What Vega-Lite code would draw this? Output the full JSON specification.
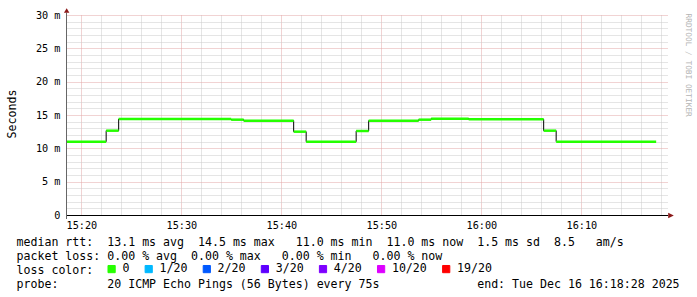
{
  "$schema": "https://vega.github.io/schema/vega-lite/v6.json",
  "width": 602,
  "height": 200,
  "autosize": {"type": "none"},
  "padding": {"left": 66, "top": 15, "right": 29, "bottom": 82},
  "background": "#ffffff",
  "config": {
    "font": "DejaVu Sans Mono",
    "view": {"stroke": null},
    "axis": {"labelFont": "DejaVu Sans Mono", "titleFont": "DejaVu Sans Mono"},
    "legend": {"labelFont": "DejaVu Sans Mono"}
  },
  "datasets": {
    "median": [
      {"start": "2025-12-16T15:17:29Z", "end": "2025-12-16T15:22:29Z", "rtt": 11.0, "loss": "0"},
      {"start": "2025-12-16T15:22:29Z", "end": "2025-12-16T15:23:44Z", "rtt": 12.65, "loss": "0"},
      {"start": "2025-12-16T15:23:44Z", "end": "2025-12-16T15:34:59Z", "rtt": 14.4, "loss": "0"},
      {"start": "2025-12-16T15:34:59Z", "end": "2025-12-16T15:36:14Z", "rtt": 14.3, "loss": "0"},
      {"start": "2025-12-16T15:36:14Z", "end": "2025-12-16T15:41:14Z", "rtt": 14.15, "loss": "0"},
      {"start": "2025-12-16T15:41:14Z", "end": "2025-12-16T15:42:29Z", "rtt": 12.5, "loss": "0"},
      {"start": "2025-12-16T15:42:29Z", "end": "2025-12-16T15:47:29Z", "rtt": 11.0, "loss": "0"},
      {"start": "2025-12-16T15:47:29Z", "end": "2025-12-16T15:48:44Z", "rtt": 12.6, "loss": "0"},
      {"start": "2025-12-16T15:48:44Z", "end": "2025-12-16T15:53:44Z", "rtt": 14.15, "loss": "0"},
      {"start": "2025-12-16T15:53:44Z", "end": "2025-12-16T15:54:59Z", "rtt": 14.3, "loss": "0"},
      {"start": "2025-12-16T15:54:59Z", "end": "2025-12-16T15:58:44Z", "rtt": 14.45, "loss": "0"},
      {"start": "2025-12-16T15:58:44Z", "end": "2025-12-16T16:06:14Z", "rtt": 14.35, "loss": "0"},
      {"start": "2025-12-16T16:06:14Z", "end": "2025-12-16T16:07:29Z", "rtt": 12.65, "loss": "0"},
      {"start": "2025-12-16T16:07:29Z", "end": "2025-12-16T16:17:29Z", "rtt": 11.0, "loss": "0"}
    ]
  },
  "resolve": {"axis": {"x": "independent", "y": "independent"}},
  "layer": [
    {
      "data": {"name": "median"},
      "mark": {"type": "line", "interpolate": "step-after", "color": "#000000", "strokeWidth": 1, "clip": true},
      "encoding": {
        "x": {
          "field": "start", "type": "temporal",
          "scale": {"type": "utc", "domain": [1765898308000, 1765901920000]},
          "axis": {
            "orient": "bottom",
            "values": [1765898520000, 1765898640000, 1765898760000, 1765898880000, 1765899120000, 1765899240000, 1765899360000, 1765899480000, 1765899720000, 1765899840000, 1765899960000, 1765900080000, 1765900320000, 1765900440000, 1765900560000, 1765900680000, 1765900920000, 1765901040000, 1765901160000, 1765901280000, 1765901520000, 1765901640000, 1765901760000, 1765901880000],
            "grid": true, "gridColor": "#cbcbcb", "gridDash": [1, 1], "gridWidth": 1, "gridOpacity": 1,
            "labels": false, "ticks": false, "domain": false, "title": null
          }
        },
        "y": {
          "field": "rtt", "type": "quantitative",
          "scale": {"domain": [0, 30], "nice": false, "zero": false},
          "axis": {
            "orient": "left",
            "values": [1, 2, 3, 4, 6, 7, 8, 9, 11, 12, 13, 14, 16, 17, 18, 19, 21, 22, 23, 24, 26, 27, 28, 29],
            "grid": true, "gridColor": "#cbcbcb", "gridDash": [1, 1], "gridWidth": 1, "gridOpacity": 1,
            "labels": false, "ticks": false, "domain": false, "title": null
          }
        }
      }
    },
    {
      "data": {"name": "median"},
      "mark": {"type": "rule", "strokeWidth": 2.5, "strokeCap": "butt", "clip": true},
      "encoding": {
        "x": {
          "field": "start", "type": "temporal",
          "scale": {"type": "utc", "domain": [1765898308000, 1765901920000]},
          "axis": {
            "orient": "bottom",
            "values": [1765898400000, 1765899000000, 1765899600000, 1765900200000, 1765900800000, 1765901400000],
            "grid": true, "gridColor": "#e2a6a6", "gridDash": [1, 1], "gridWidth": 1, "gridOpacity": 1,
            "ticks": false, "domain": false,
            "labelExpr": "utcFormat(datum.value, '%H:%M')",
            "labelFontSize": 10.2, "labelColor": "#000000", "labelPadding": 5, "labelBaseline": "top",
            "labelFlush": false, "labelOverlap": false,
            "title": [
              "median\u00a0rtt:\u00a0\u00a013.1\u00a0ms\u00a0avg\u00a0\u00a014.5\u00a0ms\u00a0max\u00a0\u00a0\u00a011.0\u00a0ms\u00a0min\u00a0\u00a011.0\u00a0ms\u00a0now\u00a0\u00a01.5\u00a0ms\u00a0sd\u00a0\u00a08.5\u00a0\u00a0\u00a0am/s",
              "packet\u00a0loss:\u00a00.00\u00a0%\u00a0avg\u00a0\u00a00.00\u00a0%\u00a0max\u00a0\u00a0\u00a00.00\u00a0%\u00a0min\u00a0\u00a0\u00a00.00\u00a0%\u00a0now",
              "loss\u00a0color:",
              "probe:\u00a0\u00a0\u00a0\u00a0\u00a0\u00a0\u00a020\u00a0ICMP\u00a0Echo\u00a0Pings\u00a0(56\u00a0Bytes)\u00a0every\u00a075s\u00a0\u00a0\u00a0\u00a0\u00a0\u00a0\u00a0\u00a0\u00a0\u00a0\u00a0\u00a0\u00a0\u00a0end:\u00a0Tue\u00a0Dec\u00a016\u00a016:18:28\u00a02025"
            ],
            "titleFontSize": 11.6, "titleFontWeight": "normal", "titleColor": "#000000",
            "titleAnchor": "start", "titleAlign": "left", "titleBaseline": "alphabetic", "titleAngle": 0,
            "titleLineHeight": 14.1, "titleX": -50, "titleY": 30
          }
        },
        "x2": {"field": "end"},
        "y": {
          "field": "rtt", "type": "quantitative",
          "scale": {"domain": [0, 30], "nice": false, "zero": false},
          "axis": {
            "orient": "left",
            "values": [0, 5, 10, 15, 20, 25, 30],
            "grid": true, "gridColor": "#e2a6a6", "gridDash": [1, 1], "gridWidth": 1, "gridOpacity": 1,
            "ticks": false, "domain": false,
            "labelExpr": "datum.value == 0 ? '0\u00a0\u00a0' : datum.value + '\u00a0m'",
            "labelFontSize": 10.2, "labelColor": "#000000", "labelPadding": 6, "labelAlign": "right", "labelBaseline": "middle",
            "title": "Seconds",
            "titleFontSize": 11.6, "titleFontWeight": "normal", "titleColor": "#000000",
            "titleAngle": 270, "titleAlign": "center", "titleBaseline": "alphabetic",
            "titleX": -51, "titleY": 98.5
          }
        },
        "color": {
          "field": "loss", "type": "nominal",
          "scale": {
            "domain": ["0", "1/20", "2/20", "3/20", "4/20", "10/20", "19/20"],
            "range": ["#26ff00", "#00b8ff", "#0059ff", "#5e00ff", "#7e00ff", "#dd00ff", "#ff0000"]
          },
          "legend": {
            "orient": "none", "legendX": 39.8, "legendY": 248,
            "direction": "horizontal", "title": null, "padding": 0,
            "symbolType": "square", "symbolSize": 52, "symbolStrokeWidth": 1, "symbolStrokeColor": "#000000",
            "labelFontSize": 11.6, "labelColor": "#000000", "labelOffset": 5, "columnPadding": 13.1,
            "encode": {
              "symbols": {
                "update": {
                  "fill": {"scale": "color", "field": "value"},
                  "stroke": {"value": "#000000"},
                  "strokeWidth": {"value": 1},
                  "opacity": {"value": 1},
                  "fillOpacity": {"value": 1}
                }
              }
            }
          }
        }
      }
    },
    {
      "data": {"values": [{}]},
      "mark": {"type": "rule", "color": "#000000", "strokeWidth": 1},
      "encoding": {
        "x": {"datum": 1765898308000, "type": "temporal", "axis": null},
        "x2": {"datum": 1765901920000},
        "y": {"datum": -0.075, "type": "quantitative", "axis": null}
      }
    },
    {
      "data": {"values": [{}]},
      "mark": {"type": "rule", "color": "#666666", "strokeWidth": 1},
      "encoding": {
        "x": {"datum": 1765898311000, "type": "temporal", "axis": null},
        "y": {
          "datum": -0.6, "type": "quantitative",
          "axis": {
            "orient": "right", "labels": false, "ticks": false, "grid": false, "domain": false,
            "title": "RRDTOOL\u00a0/\u00a0TOBI\u00a0OETIKER",
            "titleFontSize": 7.8, "titleFontWeight": "normal", "titleColor": "#b4b4b4",
            "titleAngle": 90, "titleAlign": "left", "titleBaseline": "middle",
            "titleX": 19, "titleY": -2
          }
        },
        "y2": {"datum": 30.35}
      }
    },
    {
      "data": {"values": [{}]},
      "mark": {"type": "point", "shape": "M0,-0.8L-1,0.8L1,0.8Z", "size": 30, "filled": true, "color": "#8b1a1a", "opacity": 1, "strokeWidth": 0},
      "encoding": {
        "x": {"datum": 1765898312000, "type": "temporal", "axis": null},
        "y": {"datum": 30.68, "type": "quantitative", "axis": null}
      }
    },
    {
      "data": {"values": [{}]},
      "mark": {"type": "point", "shape": "M1,0L-1,-1L-1,1Z", "size": 32, "filled": true, "color": "#8b1a1a", "opacity": 1, "strokeWidth": 0},
      "encoding": {
        "x": {"datum": 1765901938000, "type": "temporal", "axis": null},
        "y": {"datum": -0.075, "type": "quantitative", "axis": null}
      }
    }
  ]
}
